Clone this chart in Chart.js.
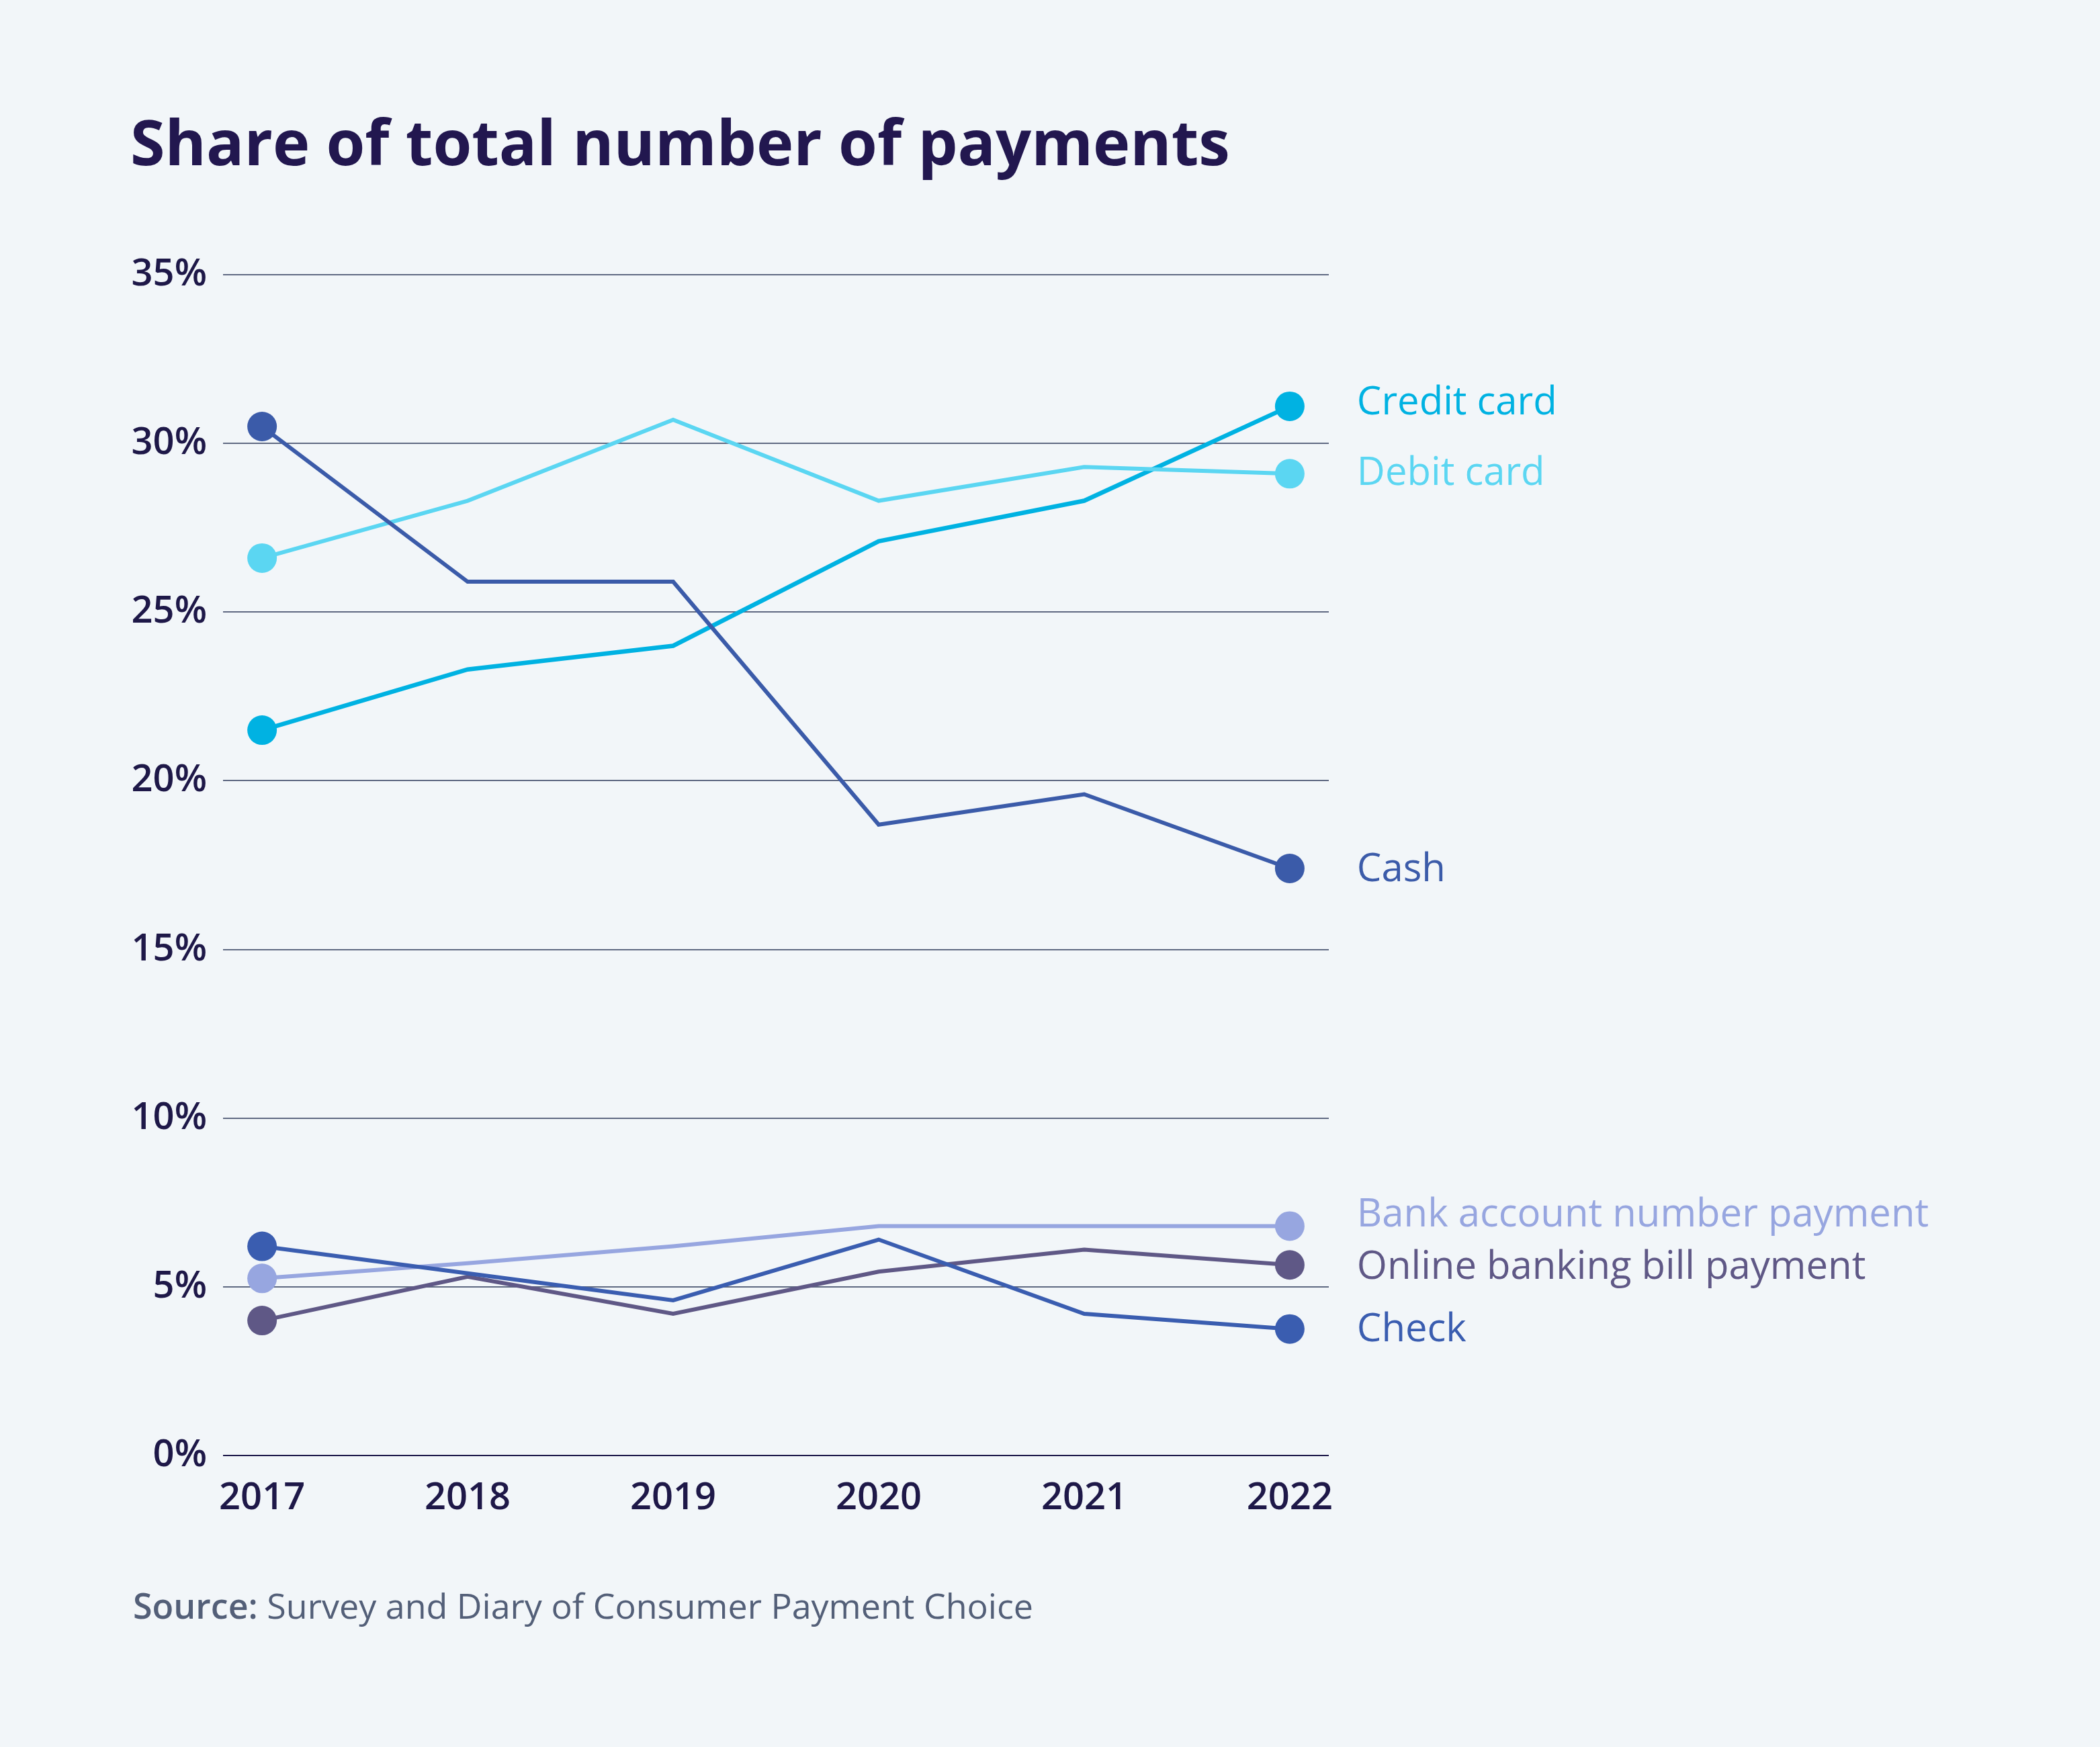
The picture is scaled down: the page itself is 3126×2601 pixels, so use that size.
<!DOCTYPE html>
<html>
<head>
<meta charset="utf-8">
<script src="https://cdn.jsdelivr.net/npm/chart.js@4"></script>
<style>
  html, body { margin: 0; padding: 0; background: #f2f6f9; }
  body { width: 3126px; height: 2601px; position: relative; overflow: hidden; font-family: 'Open Sans', sans-serif; }
  #title { position: absolute; left: 194px; top: 163px; font-size: 93.5px; font-weight: 700; color: #22174f; white-space: nowrap; line-height: 1; }
  #source { position: absolute; left: 198px; top: 2364px; font-size: 52px; color: #535f78; white-space: nowrap; line-height: 1; }
  #source b { font-weight: 600; }
  #wrap { position: absolute; left: 0; top: 0; width: 3126px; height: 2601px; }
</style>
</head>
<body>
<div id="title">Share of total number of payments</div>
<div id="wrap"><canvas id="lineChart"></canvas></div>
<div id="source"><b>Source:</b> Survey and Diary of Consumer Payment Choice</div>

<script>
// Dati (quota % sul numero totale di pagamenti)
const years = [2017, 2018, 2019, 2020, 2021, 2022];
const yTicks = [0, 5, 10, 15, 20, 25, 30, 35];

const creditCard = [21.5, 23.3, 24.0, 27.1, 28.3, 31.1];
const debitCard = [26.6, 28.3, 30.7, 28.3, 29.3, 29.1];
const cash = [30.5, 25.9, 25.9, 18.7, 19.6, 17.4];
const bankAccount = [5.25, 5.7, 6.2, 6.8, 6.8, 6.8];
const onlineBanking = [4.0, 5.3, 4.2, 5.45, 6.1, 5.65];
const check = [6.2, 5.4, 4.6, 6.4, 4.2, 3.75];

const seriesNames = ['Credit card', 'Debit card', 'Cash', 'Bank account number payment', 'Online banking bill payment', 'Check'];
const seriesValues = [creditCard, debitCard, cash, bankAccount, onlineBanking, check];

// Stili delle serie
const seriesColors = ['#00b2e2', '#5bd6f2', '#3b5ba9', '#97a6e0', '#5f5886', '#3a5db0'];
const labelNudge = [-4, 0, 2, -16, 4, 2]; // spostamento verticale etichette

const FONT = "'Open Sans', sans-serif";

function toPoints(values) {
    return values.map((v, i) => ({ x: years[i], y: v }));
}

// Plugin per le etichette a fine linea
const endLabels = {
    id: 'endLabels',
    afterDatasetsDraw(chart) {
        const ctx = chart.ctx;
        ctx.save();
        ctx.font = '400 58px ' + FONT;
        ctx.textBaseline = 'middle';
        ctx.textAlign = 'left';
        chart.data.datasets.forEach((ds, i) => {
            const meta = chart.getDatasetMeta(i);
            const last = meta.data[meta.data.length - 1];
            ctx.fillStyle = ds.borderColor;
            ctx.fillText(ds.label, last.x + 100, last.y + ds.labelNudge);
        });
        ctx.restore();
    }
};

const ctx = document.getElementById('lineChart').getContext('2d');
new Chart(ctx, {
    type: 'line',
    data: {
        datasets: seriesNames.map((name, i) => ({
            label: name,
            data: toPoints(seriesValues[i]),
            labelNudge: labelNudge[i],
            borderColor: seriesColors[i],
            backgroundColor: seriesColors[i],
            borderWidth: i === 0 ? 6.5 : 6,
            pointRadius: years.map((_, j) => (j === 0 || j === years.length - 1) ? 22 : 0),
            pointHoverRadius: 0,
            pointBorderWidth: 0,
            tension: 0,
            fill: false,
        })).reverse()
    },
    options: {
        responsive: true,
        maintainAspectRatio: false,
        animation: false,
        devicePixelRatio: 1,
        layout: {
            padding: { left: 0, right: 1148, top: 409, bottom: 0 }
        },
        plugins: {
            legend: { display: false },
            tooltip: { enabled: false },
        },
        scales: {
            x: {
                type: 'linear',
                min: years[0] - 0.19,
                max: years[years.length - 1] + 0.19,
                afterBuildTicks: scale => { scale.ticks = years.map(v => ({ value: v })); },
                afterFit: scale => { scale.height = 434; },
                grid: { display: false, drawTicks: false },
                border: { display: false },
                ticks: {
                    padding: 30,
                    color: '#1e1848',
                    font: { family: FONT, size: 56, weight: 600 },
                    callback: v => String(v),
                },
            },
            y: {
                min: 0,
                max: 35,
                afterBuildTicks: scale => { scale.ticks = yTicks.map(v => ({ value: v })); },
                afterFit: scale => { scale.width = 332; },
                grid: {
                    drawTicks: false,
                    lineWidth: 2,
                    color: c => c.tick.value === 0 ? '#1f1b4b' : '#5f6982',
                },
                border: { display: false },
                ticks: {
                    padding: 24,
                    color: '#1e1848',
                    font: { family: FONT, size: 56, weight: 600 },
                    callback: v => v + '%',
                },
            }
        }
    },
    plugins: [endLabels]
});
</script>
</body>
</html>
